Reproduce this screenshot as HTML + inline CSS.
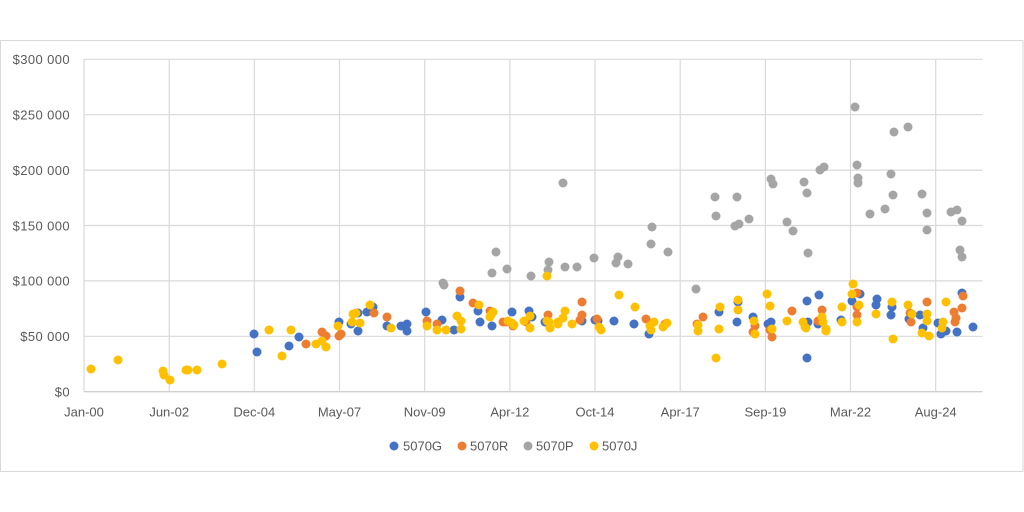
<!DOCTYPE html>
<html><head><meta charset="utf-8"><style>
html,body{margin:0;padding:0;background:#fff;}
svg{display:block;}
text{font-family:"Liberation Sans",Arial,sans-serif;font-size:13px;fill:#595959;}
</style></head><body>
<svg width="1024" height="512" viewBox="0 0 1024 512" xmlns="http://www.w3.org/2000/svg">
<rect x="0" y="0" width="1024" height="512" fill="#fff"/>
<rect x="0.5" y="40.5" width="1022.5" height="431" fill="#fff" stroke="#d9d9d9" stroke-width="1"/>
<g stroke="#d9d9d9" stroke-width="1.2">
<line x1="84" y1="59.3" x2="982.7" y2="59.3"/>
<line x1="84" y1="114.7" x2="982.7" y2="114.7"/>
<line x1="84" y1="170.1" x2="982.7" y2="170.1"/>
<line x1="84" y1="225.5" x2="982.7" y2="225.5"/>
<line x1="84" y1="280.9" x2="982.7" y2="280.9"/>
<line x1="84" y1="336.3" x2="982.7" y2="336.3"/>
<line x1="84" y1="59.3" x2="84" y2="391.7"/>
<line x1="169.2" y1="59.3" x2="169.2" y2="391.7"/>
<line x1="254.3" y1="59.3" x2="254.3" y2="391.7"/>
<line x1="339.5" y1="59.3" x2="339.5" y2="391.7"/>
<line x1="424.7" y1="59.3" x2="424.7" y2="391.7"/>
<line x1="509.9" y1="59.3" x2="509.9" y2="391.7"/>
<line x1="595" y1="59.3" x2="595" y2="391.7"/>
<line x1="680.2" y1="59.3" x2="680.2" y2="391.7"/>
<line x1="765.4" y1="59.3" x2="765.4" y2="391.7"/>
<line x1="850.5" y1="59.3" x2="850.5" y2="391.7"/>
<line x1="935.7" y1="59.3" x2="935.7" y2="391.7"/>
</g>
<line x1="84" y1="391.7" x2="982.7" y2="391.7" stroke="#d0d0d0" stroke-width="1.4"/>
<g text-anchor="end" letter-spacing="0.4">
<text x="70" y="64">$300 000</text>
<text x="70" y="119.5">$250 000</text>
<text x="70" y="175">$200 000</text>
<text x="70" y="230.3">$150 000</text>
<text x="70" y="285.7">$100 000</text>
<text x="70" y="341">$50 000</text>
<text x="70" y="396.5">$0</text>
</g>
<g text-anchor="middle">
<text x="84" y="416.5">Jan-00</text>
<text x="169.2" y="416.5">Jun-02</text>
<text x="254.3" y="416.5">Dec-04</text>
<text x="339.5" y="416.5">May-07</text>
<text x="424.7" y="416.5">Nov-09</text>
<text x="509.9" y="416.5">Apr-12</text>
<text x="595" y="416.5">Oct-14</text>
<text x="680.2" y="416.5">Apr-17</text>
<text x="765.4" y="416.5">Sep-19</text>
<text x="850.5" y="416.5">Mar-22</text>
<text x="935.7" y="416.5">Aug-24</text>
</g>
<!-- 5070G blue -->
<g fill="#4472C4">
<circle cx="254" cy="334" r="4.5"/><circle cx="257" cy="352" r="4.5"/><circle cx="289" cy="346" r="4.5"/><circle cx="299" cy="337" r="4.5"/><circle cx="339" cy="322" r="4.5"/><circle cx="351" cy="324" r="4.5"/><circle cx="358" cy="331" r="4.5"/><circle cx="358" cy="313" r="4.5"/><circle cx="367" cy="312" r="4.5"/><circle cx="373" cy="307" r="4.5"/><circle cx="387" cy="326" r="4.5"/><circle cx="401" cy="326" r="4.5"/><circle cx="407" cy="324" r="4.5"/><circle cx="407" cy="331" r="4.5"/><circle cx="426" cy="312" r="4.5"/><circle cx="442" cy="320" r="4.5"/><circle cx="454" cy="330" r="4.5"/><circle cx="460" cy="297" r="4.5"/><circle cx="478" cy="311" r="4.5"/><circle cx="480" cy="322" r="4.5"/><circle cx="492" cy="326" r="4.5"/><circle cx="512" cy="312" r="4.5"/><circle cx="529" cy="311" r="4.5"/><circle cx="532" cy="317" r="4.5"/><circle cx="545" cy="322" r="4.5"/><circle cx="582" cy="321" r="4.5"/><circle cx="595" cy="320" r="4.5"/><circle cx="598" cy="321" r="4.5"/><circle cx="614" cy="321" r="4.5"/><circle cx="634" cy="324" r="4.5"/><circle cx="649" cy="334" r="4.5"/><circle cx="719" cy="312" r="4.5"/><circle cx="738" cy="302" r="4.5"/><circle cx="737" cy="322" r="4.5"/><circle cx="753" cy="317" r="4.5"/><circle cx="768" cy="324" r="4.5"/><circle cx="771" cy="322" r="4.5"/><circle cx="807" cy="301" r="4.5"/><circle cx="819" cy="295" r="4.5"/><circle cx="808" cy="322" r="4.5"/><circle cx="818" cy="324" r="4.5"/><circle cx="807" cy="358" r="4.5"/><circle cx="841" cy="320" r="4.5"/><circle cx="852" cy="301" r="4.5"/><circle cx="860" cy="294" r="4.5"/><circle cx="877" cy="299" r="4.5"/><circle cx="876" cy="305" r="4.5"/><circle cx="892" cy="307" r="4.5"/><circle cx="891" cy="315" r="4.5"/><circle cx="909" cy="319" r="4.5"/><circle cx="920" cy="315" r="4.5"/><circle cx="923" cy="328" r="4.5"/><circle cx="938" cy="323" r="4.5"/><circle cx="941" cy="334" r="4.5"/><circle cx="946" cy="331" r="4.5"/><circle cx="957" cy="332" r="4.5"/><circle cx="962" cy="293" r="4.5"/><circle cx="973" cy="327" r="4.5"/>
</g>
<!-- 5070R orange -->
<g fill="#ED7D31">
<circle cx="306" cy="344" r="4.5"/><circle cx="322" cy="332" r="4.5"/><circle cx="326" cy="336" r="4.5"/><circle cx="339" cy="336" r="4.5"/><circle cx="341" cy="334" r="4.5"/><circle cx="374" cy="313" r="4.5"/><circle cx="387" cy="317" r="4.5"/><circle cx="427" cy="321" r="4.5"/><circle cx="437" cy="324" r="4.5"/><circle cx="460" cy="291" r="4.5"/><circle cx="473" cy="303" r="4.5"/><circle cx="490" cy="311" r="4.5"/><circle cx="503" cy="322" r="4.5"/><circle cx="506" cy="322" r="4.5"/><circle cx="513" cy="326" r="4.5"/><circle cx="526" cy="322" r="4.5"/><circle cx="548" cy="315" r="4.5"/><circle cx="582" cy="302" r="4.5"/><circle cx="582" cy="315" r="4.5"/><circle cx="580" cy="320" r="4.5"/><circle cx="597" cy="319" r="4.5"/><circle cx="646" cy="319" r="4.5"/><circle cx="665" cy="324" r="4.5"/><circle cx="697" cy="324" r="4.5"/><circle cx="703" cy="317" r="4.5"/><circle cx="755" cy="326" r="4.5"/><circle cx="753" cy="332" r="4.5"/><circle cx="770" cy="330" r="4.5"/><circle cx="772" cy="337" r="4.5"/><circle cx="792" cy="311" r="4.5"/><circle cx="822" cy="310" r="4.5"/><circle cx="818" cy="321" r="4.5"/><circle cx="857" cy="293" r="4.5"/><circle cx="857" cy="307" r="4.5"/><circle cx="857" cy="315" r="4.5"/><circle cx="910" cy="313" r="4.5"/><circle cx="911" cy="322" r="4.5"/><circle cx="927" cy="302" r="4.5"/><circle cx="955" cy="322" r="4.5"/><circle cx="956" cy="318" r="4.5"/><circle cx="954" cy="312" r="4.5"/><circle cx="962" cy="308" r="4.5"/><circle cx="963" cy="296" r="4.5"/>
</g>
<!-- 5070P gray -->
<g fill="#A5A5A5">
<circle cx="443" cy="283" r="4.5"/><circle cx="444" cy="285" r="4.5"/><circle cx="492" cy="273" r="4.5"/><circle cx="496" cy="252" r="4.5"/><circle cx="507" cy="269" r="4.5"/><circle cx="531" cy="276" r="4.5"/><circle cx="548" cy="270" r="4.5"/><circle cx="549" cy="262" r="4.5"/><circle cx="563" cy="183" r="4.5"/><circle cx="565" cy="267" r="4.5"/><circle cx="577" cy="267" r="4.5"/><circle cx="594" cy="258" r="4.5"/><circle cx="616" cy="263" r="4.5"/><circle cx="618" cy="257" r="4.5"/><circle cx="628" cy="264" r="4.5"/><circle cx="651" cy="244" r="4.5"/><circle cx="652" cy="227" r="4.5"/><circle cx="668" cy="252" r="4.5"/><circle cx="696" cy="289" r="4.5"/><circle cx="715" cy="197" r="4.5"/><circle cx="716" cy="216" r="4.5"/><circle cx="737" cy="197" r="4.5"/><circle cx="735" cy="226" r="4.5"/><circle cx="739" cy="224" r="4.5"/><circle cx="749" cy="219" r="4.5"/><circle cx="771" cy="179" r="4.5"/><circle cx="773" cy="184" r="4.5"/><circle cx="787" cy="222" r="4.5"/><circle cx="793" cy="231" r="4.5"/><circle cx="804" cy="182" r="4.5"/><circle cx="807" cy="193" r="4.5"/><circle cx="808" cy="253" r="4.5"/><circle cx="820" cy="170" r="4.5"/><circle cx="824" cy="167" r="4.5"/><circle cx="855" cy="107" r="4.5"/><circle cx="857" cy="165" r="4.5"/><circle cx="858" cy="178" r="4.5"/><circle cx="858" cy="183" r="4.5"/><circle cx="870" cy="214" r="4.5"/><circle cx="885" cy="209" r="4.5"/><circle cx="891" cy="174" r="4.5"/><circle cx="893" cy="195" r="4.5"/><circle cx="894" cy="132" r="4.5"/><circle cx="908" cy="127" r="4.5"/><circle cx="922" cy="194" r="4.5"/><circle cx="927" cy="213" r="4.5"/><circle cx="927" cy="230" r="4.5"/><circle cx="951" cy="212" r="4.5"/><circle cx="957" cy="210" r="4.5"/><circle cx="962" cy="221" r="4.5"/><circle cx="960" cy="250" r="4.5"/><circle cx="962" cy="257" r="4.5"/>
</g>
<!-- 5070J yellow -->
<g fill="#FFC000">
<circle cx="91" cy="369" r="4.5"/><circle cx="118" cy="360" r="4.5"/><circle cx="163" cy="371" r="4.5"/><circle cx="164" cy="375" r="4.5"/><circle cx="170" cy="380" r="4.5"/><circle cx="186" cy="370" r="4.5"/><circle cx="188" cy="370" r="4.5"/><circle cx="197" cy="370" r="4.5"/><circle cx="222" cy="364" r="4.5"/><circle cx="269" cy="330" r="4.5"/><circle cx="282" cy="356" r="4.5"/><circle cx="291" cy="330" r="4.5"/><circle cx="316" cy="344" r="4.5"/><circle cx="322" cy="341" r="4.5"/><circle cx="326" cy="347" r="4.5"/><circle cx="338" cy="326" r="4.5"/><circle cx="353" cy="314" r="4.5"/><circle cx="356" cy="313" r="4.5"/><circle cx="360" cy="323" r="4.5"/><circle cx="352" cy="322" r="4.5"/><circle cx="370" cy="305" r="4.5"/><circle cx="391" cy="328" r="4.5"/><circle cx="427" cy="326" r="4.5"/><circle cx="437" cy="330" r="4.5"/><circle cx="446" cy="330" r="4.5"/><circle cx="457" cy="316" r="4.5"/><circle cx="461" cy="321" r="4.5"/><circle cx="461" cy="329" r="4.5"/><circle cx="479" cy="305" r="4.5"/><circle cx="491" cy="315" r="4.5"/><circle cx="493" cy="312" r="4.5"/><circle cx="490" cy="317" r="4.5"/><circle cx="508" cy="321" r="4.5"/><circle cx="512" cy="323" r="4.5"/><circle cx="514" cy="325" r="4.5"/><circle cx="524" cy="321" r="4.5"/><circle cx="530" cy="316" r="4.5"/><circle cx="530" cy="328" r="4.5"/><circle cx="547" cy="276" r="4.5"/><circle cx="547" cy="321" r="4.5"/><circle cx="550" cy="328" r="4.5"/><circle cx="549" cy="322" r="4.5"/><circle cx="558" cy="322" r="4.5"/><circle cx="558" cy="324" r="4.5"/><circle cx="563" cy="318" r="4.5"/><circle cx="565" cy="311" r="4.5"/><circle cx="572" cy="324" r="4.5"/><circle cx="599" cy="327" r="4.5"/><circle cx="601" cy="330" r="4.5"/><circle cx="619" cy="295" r="4.5"/><circle cx="635" cy="307" r="4.5"/><circle cx="650" cy="326" r="4.5"/><circle cx="654" cy="322" r="4.5"/><circle cx="651" cy="330" r="4.5"/><circle cx="663" cy="327" r="4.5"/><circle cx="667" cy="323" r="4.5"/><circle cx="698" cy="331" r="4.5"/><circle cx="698" cy="325" r="4.5"/><circle cx="716" cy="358" r="4.5"/><circle cx="720" cy="307" r="4.5"/><circle cx="719" cy="329" r="4.5"/><circle cx="738" cy="310" r="4.5"/><circle cx="738" cy="300" r="4.5"/><circle cx="754" cy="321" r="4.5"/><circle cx="755" cy="334" r="4.5"/><circle cx="767" cy="294" r="4.5"/><circle cx="770" cy="306" r="4.5"/><circle cx="772" cy="329" r="4.5"/><circle cx="787" cy="321" r="4.5"/><circle cx="803" cy="322" r="4.5"/><circle cx="805" cy="327" r="4.5"/><circle cx="806" cy="328" r="4.5"/><circle cx="822" cy="317" r="4.5"/><circle cx="823" cy="322" r="4.5"/><circle cx="826" cy="329" r="4.5"/><circle cx="826" cy="331" r="4.5"/><circle cx="842" cy="307" r="4.5"/><circle cx="842" cy="322" r="4.5"/><circle cx="853" cy="284" r="4.5"/><circle cx="852" cy="294" r="4.5"/><circle cx="859" cy="305" r="4.5"/><circle cx="857" cy="322" r="4.5"/><circle cx="876" cy="314" r="4.5"/><circle cx="892" cy="302" r="4.5"/><circle cx="893" cy="339" r="4.5"/><circle cx="908" cy="305" r="4.5"/><circle cx="912" cy="314" r="4.5"/><circle cx="927" cy="314" r="4.5"/><circle cx="927" cy="321" r="4.5"/><circle cx="922" cy="333" r="4.5"/><circle cx="929" cy="336" r="4.5"/><circle cx="942" cy="328" r="4.5"/><circle cx="943" cy="322" r="4.5"/><circle cx="946" cy="302" r="4.5"/>
</g>
<!-- legend -->
<circle cx="394" cy="446" r="4.5" fill="#4472C4"/>
<text x="403" y="450.5">5070G</text>
<circle cx="462" cy="446" r="4.5" fill="#ED7D31"/>
<text x="470" y="450.5">5070R</text>
<circle cx="528" cy="446" r="4.5" fill="#A5A5A5"/>
<text x="536" y="450.5">5070P</text>
<circle cx="594" cy="446" r="4.5" fill="#FFC000"/>
<text x="602" y="450.5">5070J</text>
</svg>
</body></html>
